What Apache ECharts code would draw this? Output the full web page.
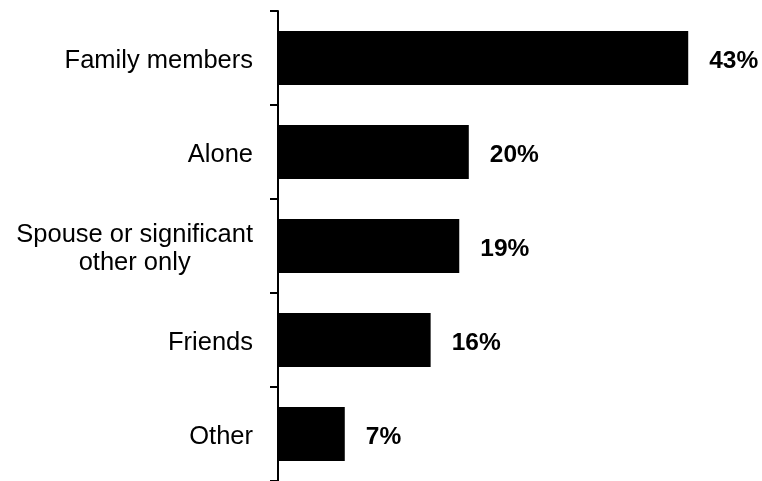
<!DOCTYPE html>
<html>
<head>
<meta charset="utf-8">
<script src="https://cdn.jsdelivr.net/npm/echarts@6/dist/echarts.min.js"></script>
<style>
  html, body { margin: 0; padding: 0; background: #ffffff; }
  #chart { width: 762px; height: 481px; }
</style>
</head>
<body>
<div id="chart"></div>
<script>
// Who people live with (share of respondents, %)
const categories = [
  'Family members',
  'Alone',
  'Spouse or significant\nother only',
  'Friends',
  'Other'
];
const shares = [43, 20, 19, 16, 7];

const FONT = 'Liberation Sans, Arial, sans-serif';

const chart = echarts.init(document.getElementById('chart'), null, { renderer: 'canvas' });

chart.setOption({
  backgroundColor: '#ffffff',
  animation: false,
  grid: { left: 278, top: 11, width: 477, height: 471 },
  xAxis: {
    type: 'value',
    min: 0,
    max: 50,
    show: false
  },
  yAxis: {
    type: 'category',
    inverse: true,
    data: categories,
    axisLine: { show: true, lineStyle: { color: '#000', width: 2 } },
    axisTick: { show: true, length: 8, lineStyle: { color: '#000', width: 2 } },
    axisLabel: {
      margin: 25,
      color: '#000',
      fontFamily: FONT,
      fontSize: 25.5,
      lineHeight: 28.5,
      padding: [6, 0, 0, 0],
      // each line is centred within the label block
      formatter: function (v) {
        return v.split('\n').map(function (s) { return '{c|' + s + '}'; }).join('\n');
      },
      rich: {
        c: {
          align: 'center',
          color: '#000',
          fontFamily: FONT,
          fontSize: 25.5,
          lineHeight: 28.5
        }
      }
    },
    splitLine: { show: false }
  },
  series: [{
    type: 'bar',
    data: shares,
    barWidth: 54,
    itemStyle: { color: '#000' },
    label: {
      show: true,
      position: 'right',
      distance: 21,
      offset: [0, 3],
      formatter: '{c}%',
      color: '#000',
      fontFamily: FONT,
      fontWeight: 'bold',
      fontSize: 24.5
    }
  }]
});
</script>
</body>
</html>
